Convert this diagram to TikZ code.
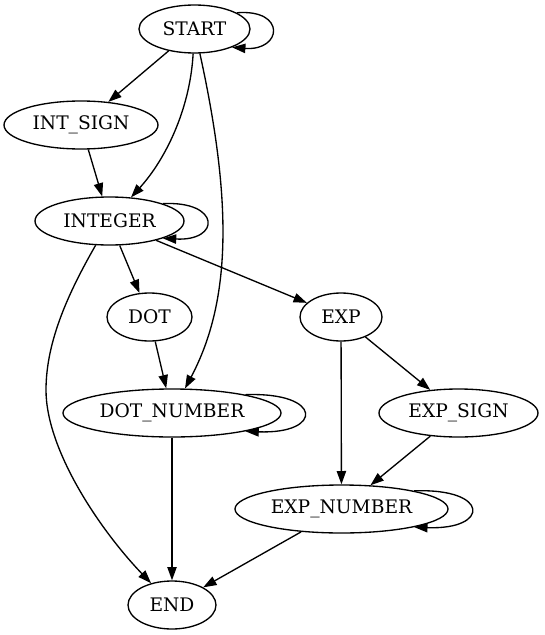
\documentclass[tikz,border=0pt]{standalone}
\usepackage{fontspec}
\setmainfont{DejaVu Serif}
\usetikzlibrary{arrows.meta,shapes.geometric}
\begin{document}
\begin{tikzpicture}[x=0.75pt,y=-0.75pt,
  state/.style={ellipse,draw,line width=1pt,inner sep=0pt,minimum height=36pt,
    font=\fontsize{14pt}{17pt}\selectfont},
  conn/.style={draw,line width=1pt,-{Triangle[length=10pt,width=7pt]}}]
\useasboundingbox (0,0) rectangle (544,635);
\node[state,minimum width=83.25pt] (start) at (194.5,29) {START};
\node[state,minimum width=115.5pt] (intsign) at (81,125) {INT\_SIGN};
\node[state,minimum width=111.75pt] (integer) at (109.5,221) {INTEGER};
\node[state,minimum width=63.75pt] (dot) at (149.5,317) {DOT};
\node[state,minimum width=61.5pt] (exp) at (341,317) {EXP};
\node[state,minimum width=163.5pt] (dotnum) at (172,413) {DOT\_NUMBER};
\node[state,minimum width=119.25pt] (expsign) at (458.5,413) {EXP\_SIGN};
\node[state,minimum width=159.75pt] (expnum) at (341.5,509) {EXP\_NUMBER};
\node[state,minimum width=66pt] (end) at (172,605) {END};
\coordinate (c1) at (46,390);

\draw[conn] (start) -- (intsign);
\draw[conn] (intsign) -- (integer);
\draw[conn] (start) .. controls (190,110) and (165,160) .. (integer);
\draw[conn] (start) .. controls (232,200) and (232,300) .. (dotnum);
\draw[conn] (integer) -- (dot);
\draw[conn] (integer) -- (exp);
\draw[conn] (integer) .. controls (70,290) and (46,340) .. (c1) .. controls (46,450) and (100,530) .. (end);
\draw[conn] (dot) -- (dotnum);
\draw[conn] (dotnum) -- (end);
\draw[conn] (exp) -- (expnum);
\draw[conn] (exp) -- (expsign);
\draw[conn] (expsign) -- (expnum);
\draw[conn] (expnum) -- (end);

\draw[conn] (start.21) .. controls +(50,-4) and +(50,4) .. (start.-26);
\draw[conn] (integer.18) .. controls +(58,-3) and +(58,3) .. (integer.-18);
\draw[conn] (dotnum.14) .. controls +(78,-3) and +(78,3) .. (dotnum.-14);
\draw[conn] (expnum.14) .. controls +(76,-3) and +(76,3) .. (expnum.-14);
\end{tikzpicture}
\end{document}
